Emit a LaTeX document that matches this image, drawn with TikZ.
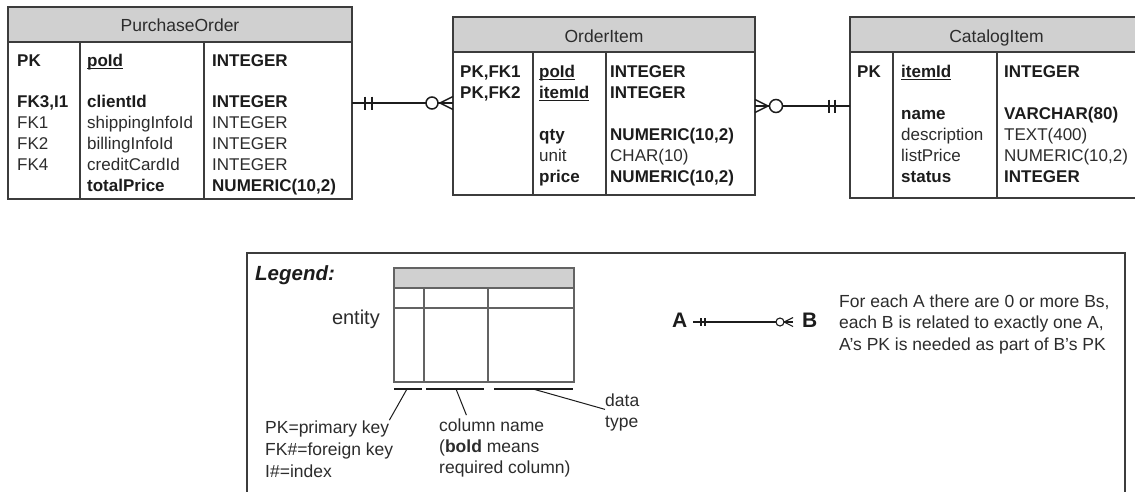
\documentclass[tikz,border=0pt]{standalone}
\usepackage{fontspec}
\setmainfont{Liberation Sans}
\usetikzlibrary{calc}
\definecolor{hdr}{HTML}{D0D0D0}
\definecolor{bdr}{HTML}{3C3C3C}
\definecolor{tc}{HTML}{1C1C1C}
\definecolor{tl}{HTML}{2C2C2C}
\newcommand\tabf{\fontsize{17}{21}\selectfont}
\newcommand\lgf{\fontsize{17.5}{21}\selectfont}
\newcommand\ulx[1]{\setbox0=\hbox{#1}\rlap{\rule[-2.6pt]{\wd0}{1pt}}\box0}
\tikzset{
  entshape/.style={rectangle, inner sep=0, outer sep=0},
  bline/.style={draw=bdr, line width=1.8pt},
  cline/.style={draw=bdr, line width=1.3pt},
  rel/.style={draw=tc, line width=1.5pt},
  tb/.style={anchor=base west, inner sep=0, font=\tabf\bfseries, text=tc},
  tn/.style={anchor=base west, inner sep=0, font=\tabf, text=tl},
  hd/.style={anchor=base, inner sep=0, font=\fontsize{17.5}{21}\selectfont, text=tl},
  lg/.style={anchor=base west, inner sep=0, font=\lgf, text=tl},
  mini/.style={draw=bdr!80, line width=1.1pt},
  lead/.style={draw=tc, line width=1pt},
}
\begin{document}
\begin{tikzpicture}[x=1pt,y=-1pt]
\clip (0,0) rectangle (1135,491);
\fill[white] (0,0) rectangle (1135,491);

% ---------------- PurchaseOrder
\node[entshape, minimum width=344pt, minimum height=192pt] (po) at (180,103) {};
\fill[hdr] (8,7) rectangle (352,42);
\draw[bline] (po.north west) rectangle (po.south east);
\draw[bline] (8,42) -- (352,42);
\draw[cline] (80,42) -- (80,199);
\draw[cline] (204,42) -- (204,199);
\node[hd] (poh) at (180,31) {PurchaseOrder};
\node[tb] (po1a) at (17,66) {PK};
\node[tb] (po1b) at (87,66) {\ulx{poId}};
\node[tb] (po1c) at (212,66) {INTEGER};
\node[tb] (po2a) at (17,107) {FK3,I1};
\node[tb] (po2b) at (87,107) {clientId};
\node[tb] (po2c) at (212,107) {INTEGER};
\node[tn] (po3a) at (17,128) {FK1};
\node[tn] (po3b) at (87,128) {shippingInfoId};
\node[tn] (po3c) at (212,128) {INTEGER};
\node[tn] (po4a) at (17,149) {FK2};
\node[tn] (po4b) at (87,149) {billingInfoId};
\node[tn] (po4c) at (212,149) {INTEGER};
\node[tn] (po5a) at (17,170) {FK4};
\node[tn] (po5b) at (87,170) {creditCardId};
\node[tn] (po5c) at (212,170) {INTEGER};
\node[tb] (po6b) at (87,191) {totalPrice};
\node[tb] (po6c) at (212,191) {NUMERIC(10,2)};

% ---------------- OrderItem
\node[entshape, minimum width=302pt, minimum height=178pt] (oi) at (604,106) {};
\fill[hdr] (453,17) rectangle (755,52);
\draw[bline] (oi.north west) rectangle (oi.south east);
\draw[bline] (453,52) -- (755,52);
\draw[cline] (533,52) -- (533,195);
\draw[cline] (606,52) -- (606,195);
\node[hd] (oih) at (604,42) {OrderItem};
\node[tb] (oi1a) at (460,77) {PK,FK1};
\node[tb] (oi1b) at (539,77) {\ulx{poId}};
\node[tb] (oi1c) at (610,77) {INTEGER};
\node[tb] (oi2a) at (460,98) {PK,FK2};
\node[tb] (oi2b) at (539,98) {\ulx{itemId}};
\node[tb] (oi2c) at (610,98) {INTEGER};
\node[tb] (oi3b) at (539,140) {qty};
\node[tb] (oi3c) at (610,140) {NUMERIC(10,2)};
\node[tn] (oi4b) at (539,161) {unit};
\node[tn] (oi4c) at (610,161) {CHAR(10)};
\node[tb] (oi5b) at (539,182) {price};
\node[tb] (oi5c) at (610,182) {NUMERIC(10,2)};

% ---------------- CatalogItem
\node[entshape, minimum width=293pt, minimum height=181pt] (ci) at (996.5,107.5) {};
\fill[hdr] (850,17) rectangle (1143,52);
\draw[bline] (ci.north west) rectangle (ci.south east);
\draw[bline] (850,52) -- (1143,52);
\draw[cline] (893,52) -- (893,198);
\draw[cline] (997,52) -- (997,198);
\node[hd] (cih) at (996.5,42) {CatalogItem};
\node[tb] (ci1a) at (857,77) {PK};
\node[tb] (ci1b) at (901,77) {\ulx{itemId}};
\node[tb] (ci1c) at (1004,77) {INTEGER};
\node[tb] (ci2b) at (901,119) {name};
\node[tb] (ci2c) at (1004,119) {VARCHAR(80)};
\node[tn] (ci3b) at (901,140) {description};
\node[tn] (ci3c) at (1004,140) {TEXT(400)};
\node[tn] (ci4b) at (901,161) {listPrice};
\node[tn] (ci4c) at (1004,161) {NUMERIC(10,2)};
\node[tb] (ci5b) at (901,182) {status};
\node[tb] (ci5c) at (1004,182) {INTEGER};

% ---------------- connector PurchaseOrder -- OrderItem
\coordinate (r1a) at (po.east);
\coordinate (r1b) at (po.east -| oi.west);
\draw[rel] (r1a) -- (r1b);
\draw[rel] ($(r1a)+(13,-6.5)$) -- ($(r1a)+(13,6.5)$);
\draw[rel] ($(r1a)+(20,-6.5)$) -- ($(r1a)+(20,6.5)$);
\draw[rel] ($(r1b)+(-13,0)$) -- ($(r1b)+(0,-6.5)$);
\draw[rel] ($(r1b)+(-13,0)$) -- ($(r1b)+(0,6.5)$);
\draw[rel, fill=white] ($(r1b)+(-21,0)$) circle[radius=6pt];

% ---------------- connector OrderItem -- CatalogItem
\coordinate (r2a) at (oi.east);
\coordinate (r2b) at (oi.east -| ci.west);
\draw[rel] (r2a) -- (r2b);
\draw[rel] ($(r2a)+(13,0)$) -- ($(r2a)+(0,-6.5)$);
\draw[rel] ($(r2a)+(13,0)$) -- ($(r2a)+(0,6.5)$);
\draw[rel, fill=white] ($(r2a)+(21,0)$) circle[radius=6.5pt];
\draw[rel] ($(r2b)+(-21,-6.5)$) -- ($(r2b)+(-21,6.5)$);
\draw[rel] ($(r2b)+(-15,-6.5)$) -- ($(r2b)+(-15,6.5)$);

% ---------------- Legend
\draw[draw=bdr, line width=1.5pt] (247,253) rectangle (1125,530);
\node[anchor=base west, inner sep=0, text=tc, font=\fontsize{20.5}{24}\selectfont\bfseries\itshape] (lgt) at (255,280) {Legend:};
\fill[hdr] (394,268) rectangle (574,288);
\draw[mini] (394,268) rectangle (574,382);
\draw[mini] (394,288) -- (574,288);
\draw[mini] (394,308) -- (574,308);
\draw[mini] (424,288) -- (424,382);
\draw[mini] (488,288) -- (488,382);
\node[anchor=base east, inner sep=0, text=tl, font=\fontsize{20}{24}\selectfont] (ent) at (380,324) {entity};
\draw[lead, line width=1.5pt] (394,389) -- (422,389);
\draw[lead, line width=1.5pt] (426,389) -- (484,389);
\draw[lead, line width=1.5pt] (494,389) -- (573,389);
\node[lg] (k1) at (265,433) {PK=primary key};
\node[lg] (k2) at (265,455) {FK\#=foreign key};
\node[lg] (k3) at (265,477) {I\#=index};
\node[lg] (c1) at (439,431) {column name};
\node[lg] (c2) at (439,452) {(\textbf{bold} means};
\node[lg] (c3) at (439,473) {required column)};
\node[lg] (d1) at (605,406) {data};
\node[lg] (d2) at (605,427) {type};
\coordinate (u1) at (407,389);
\coordinate (u2) at (456,389);
\coordinate (u3) at (533,389);
\draw[lead] (u1) -- (k1.north east);
\draw[lead] (u2) -- ($(c1.north west)!0.26!(c1.north east)+(0,-3)$);
\draw[lead] (u3) -- ($(d1.south west)+(0,3)$);

\node[anchor=base west, inner sep=0, text=tc, font=\fontsize{21}{24}\selectfont\bfseries] (la) at (672,327) {A};
\node[anchor=base west, inner sep=0, text=tc, font=\fontsize{21}{24}\selectfont\bfseries] (lb) at (802,327) {B};
\coordinate (ra) at (693,322);
\coordinate (rb) at (793,322);
\draw[rel, line width=1.1pt] (ra) -- (rb);
\draw[rel, line width=1.1pt] ($(ra)+(8,-4)$) -- ($(ra)+(8,4)$);
\draw[rel, line width=1.1pt] ($(ra)+(12,-4)$) -- ($(ra)+(12,4)$);
\draw[rel, line width=1.1pt] ($(rb)+(-9,0)$) -- ($(rb)+(0,-4.5)$);
\draw[rel, line width=1.1pt] ($(rb)+(-9,0)$) -- ($(rb)+(0,4.5)$);
\draw[rel, line width=1.1pt, fill=white] ($(rb)+(-13,0)$) circle[radius=4pt];
\node[lg] (x1) at (839,307.5) {For each A there are 0 or more Bs,};
\node[lg] (x2) at (839,328.5) {each B is related to exactly one A,};
\node[lg] (x3) at (839,350) {A's PK is needed as part of B's PK};
\end{tikzpicture}
\end{document}
